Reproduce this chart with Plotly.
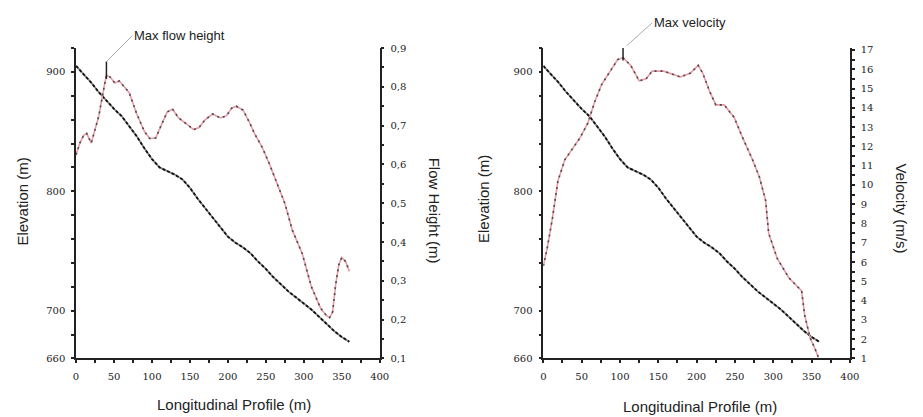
import plotly.graph_objects as go

# ---------------- data ----------------
profile_x = [0, 10, 20, 30, 40, 50, 60, 70, 80, 90, 100, 110, 120, 130, 140, 150, 160, 170,
             180, 190, 200, 210, 220, 230, 240, 250, 260, 270, 280, 290, 300, 310, 320, 330,
             340, 350, 360]
elevation = [905, 898, 891, 883, 876, 869, 863, 855, 846, 836, 827, 820, 817, 814, 810, 803,
             794, 786, 778, 770, 762, 757, 753, 748, 741, 735, 728, 722, 716, 711, 706, 701,
             695, 689, 683, 678, 674]

flow_x = [0, 5, 10, 14, 20, 25, 30, 36, 40, 45, 51, 57, 63, 70, 80, 90, 97, 105, 112, 120,
          127, 135, 145, 155, 162, 170, 180, 190, 198, 205, 211, 220, 228, 235, 245, 255,
          265, 275, 285, 298, 310, 322, 330, 334, 338, 342, 346, 350, 355, 360]
flow_height = [0.625, 0.655, 0.675, 0.68, 0.655, 0.69, 0.725, 0.79, 0.83, 0.825, 0.81, 0.815,
               0.80, 0.785, 0.73, 0.685, 0.667, 0.668, 0.70, 0.735, 0.743, 0.72, 0.705, 0.69,
               0.695, 0.715, 0.73, 0.72, 0.725, 0.745, 0.75, 0.74, 0.71, 0.68, 0.645, 0.60,
               0.55, 0.50, 0.43, 0.37, 0.285, 0.23, 0.21, 0.205, 0.22, 0.29, 0.34, 0.36,
               0.35, 0.325]

vel_x = [0, 5, 12, 19, 28, 37, 48, 58, 67, 76, 89, 97, 104, 114, 125, 134, 142, 157, 179,
         192, 202, 208, 217, 225, 236, 249, 260, 273, 282, 290, 294, 305, 320, 333, 337,
         341, 348, 354, 359]
velocity = [5.8, 6.7, 8.3, 10.2, 11.3, 11.8, 12.45, 13.2, 14.3, 15.2, 16.0, 16.5, 16.6, 16.2,
            15.4, 15.5, 15.9, 15.9, 15.6, 15.8, 16.2, 15.8, 14.85, 14.15, 14.15, 13.5, 12.45,
            11.3, 10.4, 9.2, 7.5, 6.2, 5.2, 4.7, 4.5, 3.25, 2.07, 1.55, 1.05]

x_ticks = list(range(0, 401, 25))
x_labels = [str(v) if v % 50 == 0 else "" for v in x_ticks]
elev_ticks = list(range(660, 921, 20))
elev_labels = [str(v) if v in (660, 700, 800, 900) else "" for v in elev_ticks]
fh_ticks = [round(0.1 + 0.05 * i, 2) for i in range(17)]
fh_labels = [(f"{v:.1f}".replace(".", ",") if abs(v * 10 - round(v * 10)) < 1e-6 else "") for v in fh_ticks]
vel_ticks = [1 + 0.5 * i for i in range(33)]
vel_labels = [str(int(v)) if v == int(v) else "" for v in vel_ticks]

# ---------------- layout helpers (page has an 8px body margin) ----------------
OFF = 8
W, H = 923 - OFF, 417 - OFF


def px(xp):
    return (xp - OFF) / W


def py(yp):
    return 1 - (yp - OFF) / H


TICKFONT = dict(family="DejaVu Serif", size=10, color="#222")
TITLEFONT = dict(family="Liberation Sans", size=15, color="#222")
PINK = "#e89aa6"
DARK = "#4a4a4a"

fig = go.Figure()


def dotted_pair(x, y, xa, ya, base_color, dot_color, width, dash):
    fig.add_trace(go.Scatter(x=x, y=y, mode="lines", xaxis=xa, yaxis=ya,
                             line=dict(color=base_color, width=width), hoverinfo="skip"))
    fig.add_trace(go.Scatter(x=x, y=y, mode="lines", xaxis=xa, yaxis=ya,
                             line=dict(color=dot_color, width=width, dash=dash)))


# left panel
dotted_pair(profile_x, elevation, "x", "y", "#888", "#111", 1.8, "3px,2px")
dotted_pair(flow_x, flow_height, "x", "y2", PINK, DARK, 1.6, "2px,4px")
# right panel
dotted_pair(profile_x, elevation, "x2", "y3", "#888", "#111", 1.8, "3px,2px")
dotted_pair(vel_x, velocity, "x2", "y4", PINK, DARK, 1.6, "2px,4px")

# max markers derived from data
i_fh = max(range(len(flow_height)), key=lambda i: flow_height[i])
i_v = max(range(len(velocity)), key=lambda i: velocity[i])
fh_top = flow_height[i_fh] + 0.035
v_top = velocity[i_v] + 0.7
fig.add_shape(type="line", xref="x", yref="y2", x0=flow_x[i_fh], x1=flow_x[i_fh],
              y0=flow_height[i_fh] - 0.01, y1=fh_top,
              line=dict(color="#222", width=1.5))
fig.add_shape(type="line", xref="x2", yref="y4", x0=vel_x[i_v], x1=vel_x[i_v],
              y0=velocity[i_v] - 0.15, y1=v_top,
              line=dict(color="#222", width=1.5))

ANN_FONT = dict(family="Liberation Sans", size=13, color="#222")


def title(x, y, text, angle=0):
    return dict(x=px(x), y=py(y), xref="paper", yref="paper", text=text, textangle=angle,
                showarrow=False, font=TITLEFONT, xanchor="center", yanchor="middle")


annotations = [
    dict(x=flow_x[i_fh], y=fh_top, xref="x", yref="y2",
         text="Max flow height", showarrow=True, arrowhead=0, arrowwidth=1,
         arrowcolor="#aaa", ax=26, ay=-26, xanchor="left", yanchor="middle",
         font=ANN_FONT, standoff=0),
    dict(x=vel_x[i_v], y=velocity[i_v] + 0.45, xref="x2", yref="y4",
         text="Max velocity", showarrow=True, arrowhead=0, arrowwidth=1,
         arrowcolor="#aaa", ax=29, ay=-26, xanchor="left", yanchor="middle",
         font=ANN_FONT, standoff=5),
    title(20, 202, "Elevation (m)", -90),
    title(438, 211, "Flow Height (m)", 90),
    title(488, 199, "Elevation (m)", -90),
    title(911, 209, "Velocity (m/s)", 90),
    title(234, 410, "Longitudinal Profile (m)"),
    title(707, 412, "Longitudinal Profile (m)"),
]

ydom = [py(363), py(44)]


def xaxis(domain, anchor):
    return dict(domain=domain, anchor=anchor, range=[0, 400], tickmode="array",
                tickvals=x_ticks, ticktext=x_labels, ticks="outside", ticklen=3,
                tickwidth=1.5, tickcolor="#222", showline=True, linecolor="#222",
                linewidth=1.5, showgrid=False, zeroline=False, tickfont=TICKFONT,
                ticklabelstandoff=5)


def yaxis(anchor, rng, tv, tt, side="left", overlaying=None):
    d = dict(anchor=anchor, domain=ydom, range=rng, tickmode="array", tickvals=tv,
             ticktext=tt, ticks="outside", ticklen=3, tickwidth=1.5, tickcolor="#222",
             showline=True, linecolor="#222", linewidth=1.5, showgrid=False,
             zeroline=False, side=side, tickfont=TICKFONT, ticklabelstandoff=4)
    if overlaying:
        d["overlaying"] = overlaying
    return d


fig.update_layout(
    width=W, height=H,
    margin=dict(l=0, r=0, t=0, b=0),
    paper_bgcolor="white", plot_bgcolor="white",
    showlegend=False,
    xaxis=xaxis([px(74), px(382)], "y"),
    xaxis2=xaxis([px(548), px(859)], "y3"),
    yaxis=yaxis("x", [660, 920], elev_ticks, elev_labels),
    yaxis2=yaxis("x", [0.1, 0.9], fh_ticks, fh_labels, side="right", overlaying="y"),
    yaxis3=yaxis("x2", [660, 920], elev_ticks, elev_labels),
    yaxis4=yaxis("x2", [1, 17.1], vel_ticks, vel_labels, side="right", overlaying="y3"),
    annotations=annotations,
)

fig.write_html("out.html")
